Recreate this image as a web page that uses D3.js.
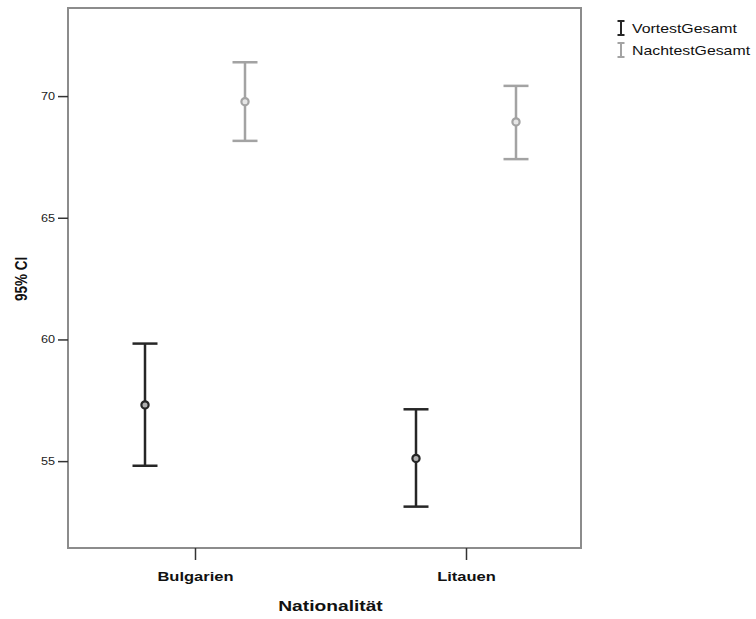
<!DOCTYPE html>
<html>
<head>
<meta charset="utf-8">
<script src="https://cdn.jsdelivr.net/npm/d3@7"></script>
<style>
  body { margin: 0; background: #fff; }
  text { font-family: "Liberation Sans", Arial, sans-serif; }
</style>
</head>
<body>
<div id="chart"></div>
<script>
// values
const categories = ['Bulgarien', 'Litauen'];
const seriesNames = ['VortestGesamt', 'NachtestGesamt'];
const vortestMean = [57.31, 55.11];
const vortestLow = [54.81, 53.13];
const vortestHigh = [59.83, 57.13];
const nachtestMean = [69.77, 68.94];
const nachtestLow = [68.16, 67.41];
const nachtestHigh = [71.39, 70.42];
const yTicks = [55, 60, 65, 70];

const width = 756;
const height = 619;
const margin = {top: 8, right: 175, bottom: 71, left: 68};
const colors = {VortestGesamt: '#262626', NachtestGesamt: '#a3a3a3'};
const fontFamily = '"Liberation Sans", Arial, sans-serif';

const svg = d3.select('#chart').append('svg')
  .attr('width', width)
  .attr('height', height);

const plotW = width - margin.left - margin.right;
const plotH = height - margin.top - margin.bottom;

// the original picture is a bit wider than tall, so text gets stretched sideways
function stretch(sel, s) {
  sel.each(function() {
    const t = d3.select(this);
    const tx = +t.attr('x') || 0;
    const ty = +t.attr('y') || 0;
    t.attr('x', 0).attr('y', 0)
      .attr('transform', `translate(${tx},${ty}) scale(${s},1)`);
  });
}

const g = svg.append('g')
  .attr('transform', `translate(${margin.left},${margin.top})`);

const y = d3.scaleLinear()
  .domain([51.43, 73.62])
  .range([plotH, 0]);

// category centers sit a bit left of the frame middle
const x = d3.scalePoint()
  .domain(categories)
  .range([127, plotW - 115]);

const offset = d3.scalePoint()
  .domain(seriesNames)
  .range([-50, 50]);

const rows = [];
categories.forEach((c, i) => {
  rows.push({cat: c, series: 'VortestGesamt', mean: vortestMean[i], low: vortestLow[i], high: vortestHigh[i]});
  rows.push({cat: c, series: 'NachtestGesamt', mean: nachtestMean[i], low: nachtestLow[i], high: nachtestHigh[i]});
});

// frame
g.append('rect')
  .attr('width', plotW)
  .attr('height', plotH)
  .attr('fill', 'none')
  .attr('stroke', '#8c8c8c')
  .attr('stroke-width', 2);

// y axis
const yAxis = g.append('g')
  .call(d3.axisLeft(y).tickValues(yTicks).tickSize(10).tickPadding(3));
yAxis.select('.domain').remove();
yAxis.selectAll('line').attr('stroke', '#333').attr('stroke-width', 1.5);
yAxis.selectAll('text').attr('font-size', 11).attr('fill', '#222')
  .style('font-family', fontFamily)
  .call(stretch, 1.15);

// x axis
const xAxis = g.append('g')
  .attr('transform', `translate(0,${plotH})`)
  .call(d3.axisBottom(x).tickSize(12).tickPadding(12));
xAxis.select('.domain').remove();
xAxis.selectAll('line').attr('stroke', '#333').attr('stroke-width', 1.5);
xAxis.selectAll('text').attr('font-size', 13).attr('font-weight', 'bold').attr('fill', '#111')
  .style('font-family', fontFamily)
  .call(stretch, 1.27);

// axis titles
svg.append('text')
  .attr('x', margin.left + plotW / 2 + 6)
  .attr('y', 611)
  .attr('text-anchor', 'middle')
  .attr('font-size', 15)
  .attr('font-weight', 'bold')
  .attr('fill', '#111')
  .text('Nationalität')
  .call(stretch, 1.28);

svg.append('text')
  .attr('transform', `translate(27,279) scale(1.27,1) rotate(-90)`)
  .attr('text-anchor', 'middle')
  .attr('font-size', 13.5)
  .attr('font-weight', 'bold')
  .attr('fill', '#111')
  .text('95% CI');

// error bars
const capHalf = 12.5;
const bars = g.append('g').selectAll('g')
  .data(rows)
  .join('g')
  .attr('transform', d => `translate(${x(d.cat) + offset(d.series)},0)`)
  .attr('stroke', d => colors[d.series])
  .attr('stroke-width', 2.5)
  .attr('fill', 'none');

bars.append('line')
  .attr('y1', d => y(d.high))
  .attr('y2', d => y(d.low));
bars.append('line')
  .attr('x1', -capHalf).attr('x2', capHalf)
  .attr('y1', d => y(d.high)).attr('y2', d => y(d.high));
bars.append('line')
  .attr('x1', -capHalf).attr('x2', capHalf)
  .attr('y1', d => y(d.low)).attr('y2', d => y(d.low));
bars.append('circle')
  .attr('cy', d => y(d.mean))
  .attr('r', 3.6)
  .attr('stroke-width', 2.2)
  .attr('fill', d => d.series === 'VortestGesamt' ? '#b0b0b0' : '#e6e6e6');

// legend
const legend = svg.append('g')
  .attr('transform', 'translate(621,28)');
const item = legend.selectAll('g')
  .data(seriesNames)
  .join('g')
  .attr('transform', (d, i) => `translate(0,${i * 22})`);
item.append('path')
  .attr('d', 'M-3.5,-7H3.5M0,-7V7M-3.5,7H3.5')
  .attr('stroke', d => colors[d])
  .attr('stroke-width', 2)
  .attr('fill', 'none');
item.append('text')
  .attr('x', 11)
  .attr('y', 4.5)
  .attr('font-size', 12.5)
  .attr('fill', '#111')
  .text(d => d)
  .call(stretch, 1.27);
</script>
</body>
</html>
